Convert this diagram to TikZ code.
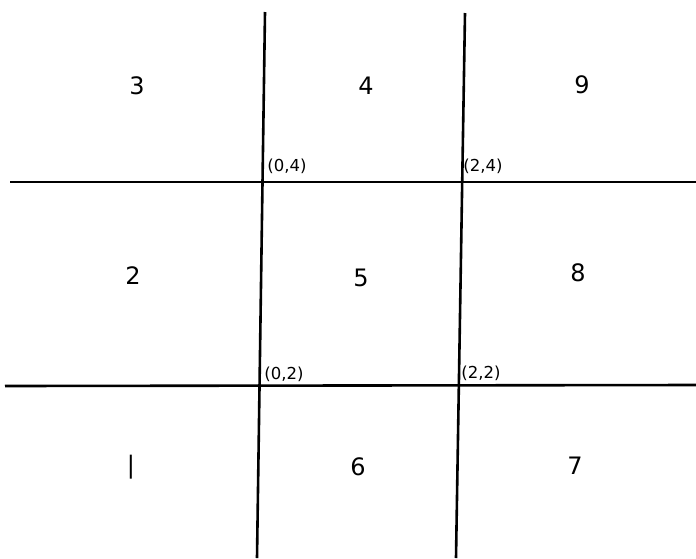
\documentclass[tikz,border=0pt]{standalone}
\usepackage{fontspec}
\setmainfont{DejaVu Sans}
\begin{document}
\begin{tikzpicture}[x=1pt,y=-1pt,
  gridline/.style={line width=2.6pt,black},
  cell/.style={font=\fontsize{24}{28}\selectfont,inner sep=0pt},
  corner/.style={font=\fontsize{16.5}{19}\selectfont,inner sep=0pt}]
\useasboundingbox[fill=white] (0,0) rectangle (696,558);
% grid corners
\coordinate (v1t) at (265,12);
\coordinate (v1b) at (257,558);
\coordinate (v2t) at (465,13);
\coordinate (v2b) at (456,558);
\coordinate (h1l) at (10,182);
\coordinate (h1r) at (696,182);
\coordinate (h2l) at (5,386);
\coordinate (h2r) at (696,385);
\draw[gridline] (v1t) -- (v1b);
\draw[gridline] (v2t) -- (v2b);
\draw[gridline] (h1l) -- (h1r);
\draw[gridline] (h2l) -- (h2r);
% cell numbers
\node[cell] (n3) at (137,86) {3};
\node[cell] (n4) at (366,86) {4};
\node[cell] (n9) at (582,85) {9};
\node[cell] (n2) at (133,276) {2};
\node[cell] (n5) at (361,278) {5};
\node[cell] (n8) at (578,273) {8};
\node[cell] (n1) at (131,467) {|};
\node[cell] (n6) at (358,467) {6};
\node[cell] (n7) at (575,466) {7};
% corner labels
\node[corner] (c04) at (287,166) {(0,4)};
\node[corner] (c24) at (483,166) {(2,4)};
\node[corner] (c02) at (284,374) {(0,2)};
\node[corner] (c22) at (481,373) {(2,2)};
\end{tikzpicture}
\end{document}
